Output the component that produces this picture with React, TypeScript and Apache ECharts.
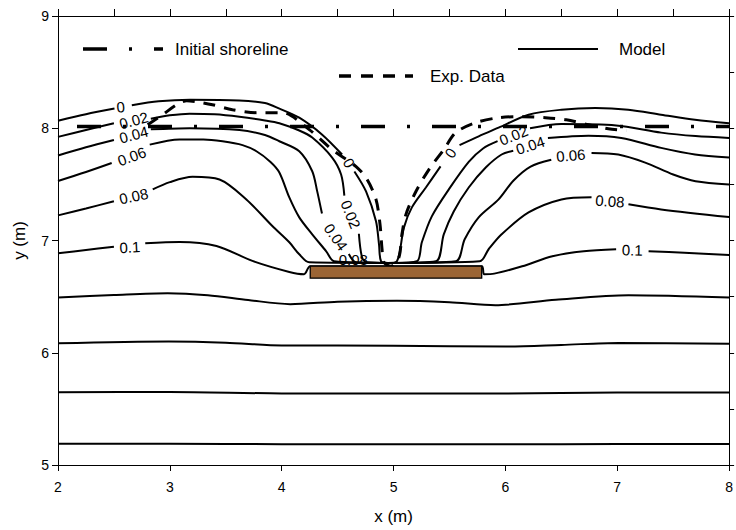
import React, { useEffect, useRef } from "react";
import * as echarts from "echarts";

type Pt = [number, number] | null;

// Axis ranges / ticks
const xRange = [2, 8];
const yRange = [5, 9];

// Model contours (labelled levels), null = gap for the label
const contourLevels = ["0", "0.02", "0.04", "0.06", "0.08", "0.1"];

const contour000: Pt[] = [
  [2.0, 8.067], [2.25, 8.125], [2.505, 8.175], null,
  [2.66, 8.205], [2.9, 8.24], [3.18, 8.254], [3.62, 8.248], [3.85, 8.225], [3.98, 8.175],
  [4.157, 8.094], [4.362, 7.943], [4.54, 7.766], null,
  [4.65, 7.615], [4.754, 7.437], [4.843, 7.171], [4.87, 6.966], [4.888, 6.815], [4.95, 6.8],
  [5.03, 6.815], [5.093, 7.117], [5.164, 7.295], [5.289, 7.472], [5.42, 7.66], null,
  [5.59, 7.85], [5.761, 7.928], [5.939, 8.005], [6.207, 8.121], [6.501, 8.165], [6.804, 8.18],
  [7.098, 8.165], [7.392, 8.121], [7.695, 8.076], [8.0, 8.045],
];
const contour002: Pt[] = [
  [2.0, 7.923], [2.25, 7.985], [2.5, 8.045], null,
  [2.83, 8.085], [3.0, 8.115], [3.176, 8.13], [3.4, 8.125], [3.622, 8.103], [3.85, 8.07],
  [3.979, 8.045], [4.157, 7.98], [4.273, 7.917], [4.451, 7.739], [4.531, 7.588], [4.56, 7.4], null,
  [4.69, 7.06], [4.718, 6.851], [4.76, 6.806], [5.0, 6.8], [5.209, 6.815], [5.253, 6.984],
  [5.342, 7.215], [5.494, 7.455], [5.672, 7.7], [5.8, 7.82], [5.93, 7.885], null,
  [6.22, 8.0], [6.5, 8.038], [6.99, 8.025], [7.392, 7.961], [7.7, 7.93], [8.0, 7.914],
];
const contour004: Pt[] = [
  [2.0, 7.757], [2.25, 7.83], [2.5, 7.895], null,
  [2.83, 7.99], [3.176, 8.0], [3.622, 7.985], [3.85, 7.94], [3.979, 7.884], [4.157, 7.795],
  [4.273, 7.617], [4.317, 7.44], [4.36, 7.24], null,
  [4.6, 6.88], [4.665, 6.806], [5.0, 6.8], [5.378, 6.815], [5.449, 7.055], [5.538, 7.259],
  [5.672, 7.472], [5.824, 7.65], [5.966, 7.766], [6.07, 7.8], null,
  [6.38, 7.914], [6.742, 7.934], [7.036, 7.914], [7.392, 7.825], [7.695, 7.766], [8.0, 7.74],
];
const contour006: Pt[] = [
  [2.0, 7.53], [2.25, 7.61], [2.48, 7.69], null,
  [2.82, 7.854], [3.087, 7.899], [3.3, 7.9], [3.471, 7.884], [3.65, 7.85], [3.774, 7.795],
  [3.9, 7.7], [3.979, 7.606], [4.068, 7.384], [4.157, 7.206], [4.273, 7.055], [4.398, 6.904],
  [4.469, 6.815], [5.0, 6.8], [5.556, 6.815], [5.636, 7.011], [5.761, 7.206], [5.939, 7.366],
  [6.073, 7.535], [6.225, 7.659], [6.41, 7.72], null,
  [6.77, 7.78], [7.009, 7.766], [7.25, 7.694], [7.5, 7.588], [7.7, 7.528], [8.0, 7.499],
];
const contour008: Pt[] = [
  [2.0, 7.224], [2.25, 7.285], [2.5, 7.35], null,
  [2.847, 7.455], [3.0, 7.52], [3.203, 7.567], [3.444, 7.544], [3.684, 7.366], [3.916, 7.129],
  [4.068, 6.984], [4.157, 6.877], [4.246, 6.806], [5.0, 6.8], [5.77, 6.815], [5.85, 6.922],
  [5.966, 7.055], [6.207, 7.25], [6.501, 7.366], [6.77, 7.385], null,
  [7.1, 7.322], [7.392, 7.277], [8.0, 7.209],
];
const contour010: Pt[] = [
  [2.0, 6.886], [2.25, 6.915], [2.5, 6.945], null,
  [2.78, 6.975], [3.087, 6.987], [3.417, 6.951], [3.738, 6.818], [4.068, 6.72], [4.2, 6.7],
  [4.255, 6.771], [5.0, 6.771], [5.788, 6.771], [5.81, 6.7], [5.9, 6.705], [6.15, 6.77],
  [6.42, 6.86], [6.7, 6.905], [6.99, 6.922], null,
  [7.28, 6.905], [7.6, 6.89], [8.0, 6.871],
];
const labelledContours = [contour000, contour002, contour004, contour006, contour008, contour010];

// Unlabelled deeper contours
const contourLow1: Pt[] = [
  [2.0, 6.493], [2.5, 6.515], [2.98, 6.531], [3.34, 6.513], [3.7, 6.47], [4.077, 6.433],
  [4.5, 6.455], [5.03, 6.463], [5.5, 6.45], [5.91, 6.424], [6.45, 6.472], [7.1, 6.513], [8.0, 6.493],
];
const contourLow2: Pt[] = [
  [2.0, 6.084], [2.99, 6.1], [3.5, 6.09], [4.0, 6.065], [5.0, 6.063], [6.0, 6.056],
  [6.5, 6.07], [7.01, 6.087], [8.0, 6.08],
];
const contourLow3: Pt[] = [
  [2.0, 5.649], [3.0, 5.65], [4.0, 5.638], [5.0, 5.637], [6.0, 5.637], [7.0, 5.645], [8.0, 5.645],
];
const contourLow4: Pt[] = [
  [2.0, 5.19], [3.0, 5.19], [4.0, 5.185], [5.0, 5.184], [6.0, 5.184], [7.0, 5.187], [8.0, 5.187],
];
const lowContours = [contourLow1, contourLow2, contourLow3, contourLow4];

// Contour labels: x, y, text, rotation (deg)
const contourLabels: [number, number, string, number][] = [
  [2.56, 8.19, "0", 5],
  [2.677, 8.07, "0.02", 15],
  [2.677, 7.943, "0.04", 15],
  [2.66, 7.75, "0.06", 20],
  [2.677, 7.395, "0.08", 12],
  [2.642, 6.94, "0.1", 3],
  [4.602, 7.692, "0", -60],
  [4.617, 7.233, "0.02", -68],
  [4.484, 7.031, "0.04", -55],
  [4.64, 6.83, "0.08", 0],
  [5.509, 7.781, "0", 55],
  [6.073, 7.937, "0.02", 22],
  [6.222, 7.848, "0.04", 18],
  [6.584, 7.759, "0.06", 5],
  [6.935, 7.351, "0.08", -4],
  [7.134, 6.916, "0.1", -1],
];

// Experimental shoreline
const expData: Pt[] = [
  [2.802, 8.032], [2.936, 8.121], [3.061, 8.21], [3.15, 8.245], [3.239, 8.236], [3.381, 8.21],
  [3.56, 8.165], [3.774, 8.139], [4.005, 8.139], [4.246, 7.988], [4.451, 7.81], [4.665, 7.659],
  [4.763, 7.544], [4.843, 7.366], [4.879, 7.144], [4.897, 6.922], [4.914, 6.806], [4.977, 6.771],
  [5.048, 6.851], [5.075, 7.055], [5.111, 7.233], [5.2, 7.437], [5.316, 7.632], [5.449, 7.81],
  [5.556, 7.961], [5.734, 8.05], [5.939, 8.094], [6.144, 8.103], [6.358, 8.094], [6.545, 8.076],
  [6.742, 8.032], [6.92, 7.996], [7.08, 7.979],
];

// Initial shoreline
const initialShoreline: Pt[] = [[2.17, 8.015], [8.0, 8.015]];

// Breakwater: x1, yTop, x2, yBottom
const breakwater = [[4.255, 6.771, 5.788, 6.664]];

const FONT = "'Liberation Sans', Arial, Helvetica, sans-serif";

const toData = (pts: Pt[]) => pts.map((p) => (p === null ? ["-", "-"] : p));

export default function App() {
  const ref = useRef<HTMLDivElement>(null);
  useEffect(() => {
    if (!ref.current) return;
    const chart = echarts.init(ref.current, null, { renderer: "svg" });

    const contourSeries: any[] = labelledContours.map((c, i) => ({
      type: "line",
      name: "Model " + contourLevels[i],
      data: toData(c),
      xAxisIndex: 0,
      yAxisIndex: 0,
      showSymbol: false,
      symbol: "none",
      smooth: 0.3,
      connectNulls: false,
      lineStyle: { color: "#000", width: 2 },
      z: 2,
      silent: true,
    }));
    const lowSeries: any[] = lowContours.map((c, i) => ({
      type: "line",
      name: "Model low " + i,
      data: toData(c),
      showSymbol: false,
      symbol: "none",
      smooth: 0.3,
      lineStyle: { color: "#000", width: 2 },
      z: 2,
      silent: true,
    }));

    const option: any = {
      animation: false,
      backgroundColor: "#fff",
      textStyle: { fontFamily: FONT },
      grid: { left: 58, right: 5, top: 16, bottom: 64, containLabel: false },
      xAxis: [
        {
          type: "value",
          min: xRange[0],
          max: xRange[1],
          interval: 1,
          position: "bottom",
          name: "x (m)",
          nameLocation: "middle",
          nameGap: 43,
          nameTextStyle: { fontSize: 17, color: "#000", fontFamily: FONT },
          axisLine: { show: true, onZero: false, lineStyle: { color: "#000", width: 1 } },
          axisTick: { show: true, inside: false, length: 6, lineStyle: { color: "#000" } },
          axisLabel: { fontSize: 14, color: "#000", margin: 15, fontFamily: FONT },
          splitLine: { show: false },
        },
        {
          type: "value",
          min: xRange[0],
          max: xRange[1],
          interval: 0.5,
          position: "top",
          axisLine: { show: true, onZero: false, lineStyle: { color: "#000", width: 1 } },
          axisTick: { show: true, inside: false, length: 7, lineStyle: { color: "#000" } },
          axisLabel: { show: false },
          splitLine: { show: false },
        },
      ],
      yAxis: [
        {
          type: "value",
          min: yRange[0],
          max: yRange[1],
          interval: 1,
          position: "left",
          name: "y (m)",
          nameLocation: "middle",
          nameGap: 30,
          nameRotate: 90,
          nameTextStyle: { fontSize: 17, color: "#000", fontFamily: FONT },
          axisLine: { show: true, onZero: false, lineStyle: { color: "#000", width: 1 } },
          axisTick: { show: true, inside: false, length: 6, lineStyle: { color: "#000" } },
          axisLabel: { fontSize: 14, color: "#000", margin: 9, fontFamily: FONT },
          splitLine: { show: false },
        },
        {
          type: "value",
          min: yRange[0],
          max: yRange[1],
          interval: 0.5,
          position: "right",
          axisLine: { show: true, onZero: false, lineStyle: { color: "#000", width: 1 } },
          axisTick: { show: true, inside: false, length: 5, lineStyle: { color: "#000" } },
          axisLabel: { show: false },
          splitLine: { show: false },
        },
      ],
      series: [
        ...contourSeries,
        ...lowSeries,
        {
          type: "line",
          name: "Initial shoreline",
          data: toData(initialShoreline),
          showSymbol: false,
          symbol: "none",
          lineStyle: { color: "#000", width: 3.5, type: [24, 22, 3, 22] },
          z: 3,
          silent: true,
        },
        {
          type: "line",
          name: "Exp. Data",
          data: toData(expData),
          showSymbol: false,
          symbol: "none",
          smooth: 0.3,
          lineStyle: { color: "#000", width: 3, type: [12, 9] },
          z: 3,
          silent: true,
        },
        {
          type: "custom",
          name: "Breakwater",
          data: breakwater,
          z: 5,
          silent: true,
          renderItem: (params: any, api: any) => {
            const p1 = api.coord([api.value(0), api.value(1)]);
            const p2 = api.coord([api.value(2), api.value(3)]);
            return {
              type: "rect",
              shape: { x: p1[0], y: p1[1], width: p2[0] - p1[0], height: p2[1] - p1[1] },
              style: { fill: "#9b6535", stroke: "#000", lineWidth: 1.3 },
            };
          },
        },
        {
          type: "custom",
          name: "Contour labels",
          z: 6,
          silent: true,
          data: contourLabels.map((l) => [l[0], l[1], l[3]]),
          renderItem: (params: any, api: any) => {
            const p = api.coord([api.value(0), api.value(1)]);
            const lab = contourLabels[params.dataIndex];
            return {
              type: "text",
              x: p[0],
              y: p[1],
              rotation: (lab[3] * Math.PI) / 180,
              style: {
                text: lab[2],
                fill: "#000",
                fontSize: 15,
                fontFamily: FONT,
                align: "center",
                verticalAlign: "middle",
              },
            };
          },
        },
      ],
      graphic: [
        {
          type: "line",
          shape: { x1: 83, y1: 49, x2: 163, y2: 49 },
          style: { stroke: "#000", lineWidth: 3.5, lineDash: [24, 22, 3, 22] },
        },
        {
          type: "text",
          x: 175,
          y: 49,
          style: { text: "Initial shoreline", fontSize: 17, fill: "#000", fontFamily: FONT, verticalAlign: "middle" },
        },
        {
          type: "line",
          shape: { x1: 518, y1: 49, x2: 598, y2: 49 },
          style: { stroke: "#000", lineWidth: 2 },
        },
        {
          type: "text",
          x: 619,
          y: 49,
          style: { text: "Model", fontSize: 17, fill: "#000", fontFamily: FONT, verticalAlign: "middle" },
        },
        {
          type: "line",
          shape: { x1: 339, y1: 76, x2: 413, y2: 76 },
          style: { stroke: "#000", lineWidth: 3.5, lineDash: [12, 10] },
        },
        {
          type: "text",
          x: 430,
          y: 76,
          style: { text: "Exp. Data", fontSize: 17, fill: "#000", fontFamily: FONT, verticalAlign: "middle" },
        },
      ],
    };
    chart.setOption(option);
    return () => chart.dispose();
  }, []);
  return (
    <div
      ref={ref}
      style={{ position: "absolute", left: 0, top: 0, width: 736, height: 530, background: "#fff" }}
    />
  );
}
